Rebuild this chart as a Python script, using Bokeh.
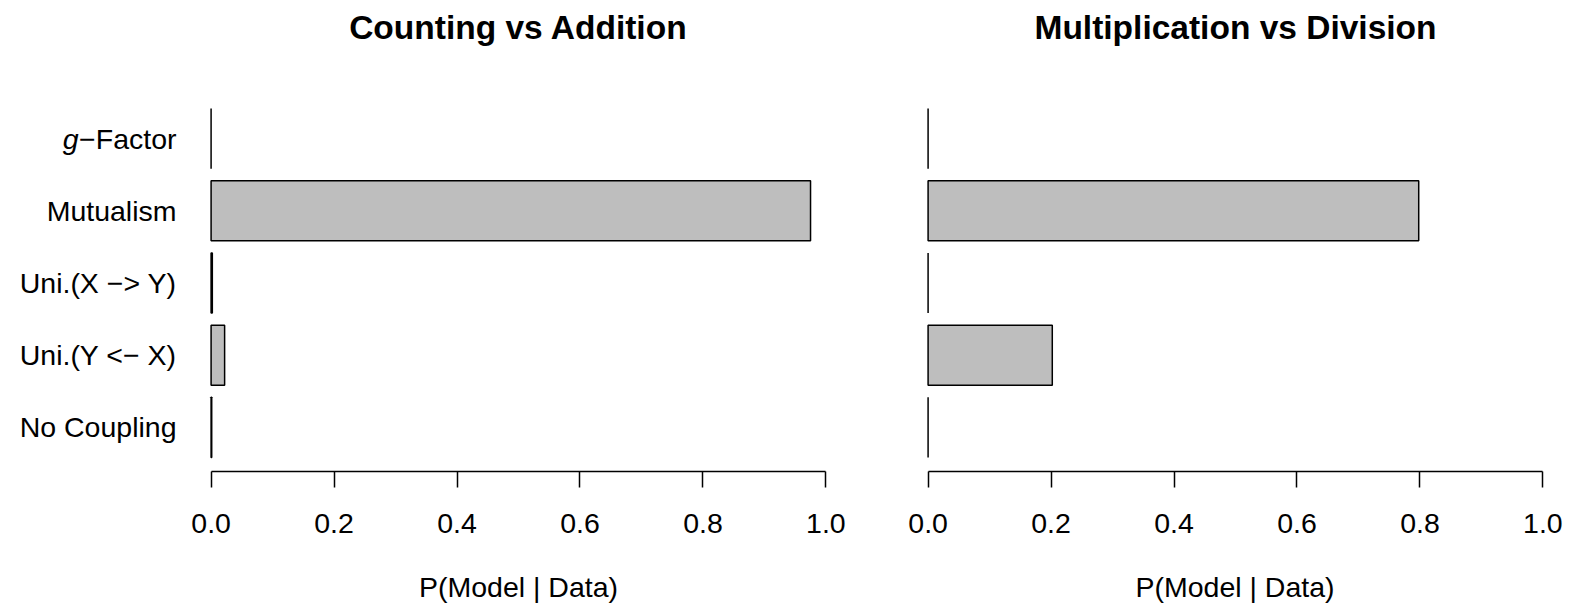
from bokeh.plotting import figure
from bokeh.models import Range1d, FixedTicker, ColumnDataSource
from bokeh.layouts import row
from bokeh.embed import file_html
from bokeh.resources import INLINE
from bokeh.core.properties import value

# ---- data (top to bottom as shown) ----
categories = ["g\u2212Factor", "Mutualism", "Uni.(X \u2212> Y)", "Uni.(Y <\u2212 X)", "No Coupling"]
titles = ["Counting vs Addition", "Multiplication vs Division"]
counting_addition = [0.0, 0.975, 0.002, 0.022, 0.001]
mult_division = [0.0, 0.798, 0.0, 0.202, 0.0]
x_ticks = [0.0, 0.2, 0.4, 0.6, 0.8, 1.0]
x_label = "P(Model | Data)"

FONT = "Liberation Sans"
LABEL_SIZE = "28.5px"
n = len(categories)
# R barplot positions (bottom bar at 0.7, spacing 1.2), first category on top
ypos = [0.7 + 1.2 * (n - 1 - i) for i in range(n)]

H = 607
BOTTOM = 136           # space below the plotting region
TOP_PAD = 94           # px above the R plot region (title zone)
Y0, Y1 = -0.032, 6.232  # R plot region y limits
YSCALE = (H - BOTTOM - TOP_PAD) / (Y1 - Y0)
Y_END = Y1 + TOP_PAD / YSCALE
XSCALE = 664 / 1.08     # px per unit


def base_fig(width, x_range, left=0, right=0):
    p = figure(width=width, height=H, x_range=x_range,
               y_range=Range1d(Y0, Y_END),
               output_backend="svg", toolbar_location=None,
               min_border_left=left, min_border_right=right,
               min_border_top=0, min_border_bottom=BOTTOM,
               y_axis_location=None)
    p.outline_line_color = None
    p.xgrid.visible = False
    p.ygrid.visible = False
    p.background_fill_color = "white"
    p.border_fill_color = "white"
    return p


# ---- category labels panel ----
p0 = base_fig(186, Range1d(0, 186))
p0.xaxis.visible = False
texts = [c[1:] if c.startswith("g\u2212") else c for c in categories]
p0.text(x=[176] * n, y=ypos, text=texts, text_align="right",
        text_baseline="middle", text_font=value(FONT),
        text_font_size=LABEL_SIZE, text_color="black")
gi = categories.index("g\u2212Factor")
p0.text(x=[78], y=[ypos[gi]], text=["g"], text_align="right",
        text_baseline="middle", text_font=value(FONT),
        text_font_size=LABEL_SIZE, text_font_style="italic", text_color="black")


def make_panel(values, title, frame_w, left_border, right_border):
    x_end = -0.04 + frame_w / XSCALE
    p = base_fig(left_border + frame_w + right_border, Range1d(-0.04, x_end),
                 left_border, right_border)

    src = ColumnDataSource(dict(y=ypos, right=values, left=[0] * n))
    p.hbar(y="y", left="left", right="right", height=1.0, source=src,
           fill_color="#BEBEBE", line_color="black", line_width=1.5)

    # title (centered over the R plot region)
    p.text(x=[0.5], y=[Y1 + (TOP_PAD - 27) / YSCALE], text=[title],
           text_align="center", text_baseline="alphabetic",
           text_font=value(FONT), text_font_size="33.5px",
           text_font_style="bold", text_color="black")

    ax = p.xaxis[0]
    ax.ticker = FixedTicker(ticks=x_ticks)
    ax.major_label_overrides = {t: f"{t:.1f}" for t in x_ticks}
    ax.bounds = (0, 1)
    ax.axis_line_width = 1.5
    ax.major_tick_line_width = 1.5
    ax.major_tick_in = 0
    ax.major_tick_out = 16
    ax.minor_tick_line_color = None
    ax.major_label_text_font = FONT
    ax.major_label_text_font_size = LABEL_SIZE
    ax.major_label_text_color = "black"
    ax.major_label_text_line_height = 0.8
    ax.major_label_standoff = 26
    ax.axis_label = x_label
    ax.axis_label_text_font = FONT
    ax.axis_label_text_font_size = LABEL_SIZE
    ax.axis_label_text_font_style = "normal"
    ax.axis_label_text_color = "black"
    ax.axis_label_text_line_height = 0.8
    ax.axis_label_standoff = 35
    return p


p1 = make_panel(counting_addition, titles[0], 664, 0, 20)
p2 = make_panel(mult_division, titles[1], 663, 33, 2)
layout = row(p0, p1, p2)

open("out.html", "w").write(file_html(layout, INLINE))
